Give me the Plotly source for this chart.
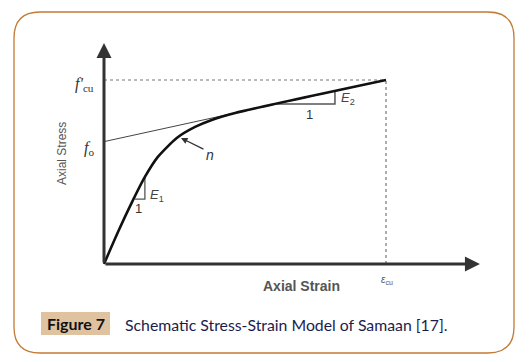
import plotly.graph_objects as go

W, H = 529, 362

# ---- data (normalised: eps_cu = 1, f'cu = 1) ----
curve_strain = [0.0, 0.050, 0.098, 0.145, 0.191, 0.258, 0.323, 0.382, 0.465, 1.0]
curve_stress = [0.0, 0.175, 0.332, 0.473, 0.582, 0.685, 0.745, 0.783, 0.821, 1.0]
f_o = 0.665
f_cu = 1.0
eps_cu = 1.0
tangent_strain = [0.0, eps_cu]
tangent_stress = [f_o, f_cu]
e1_tri_x = [0.110, 0.145, 0.145]
e1_tri_y = [0.353, 0.353, 0.467]
e2_tri_x = [0.613, 0.819, 0.819]
e2_tri_y = [0.870, 0.870, 0.939]
x_axis_end = 1.333
y_axis_end = 1.201

# pixel mapping (origin px (104,264), eps_cu px 386, f'cu px 80)
sx, sy = 282.0, 184.0
ox, oy = 104.0, 264.0
xr = [-ox / sx, (W - ox) / sx]
yr = [-(H - oy) / sy, oy / sy]

fig = go.Figure()
# dashed guides
fig.add_trace(go.Scatter(x=[0, eps_cu], y=[f_cu, f_cu], mode="lines",
                         line=dict(color="#777", width=1.2, dash="dot"), hoverinfo="skip"))
fig.add_trace(go.Scatter(x=[eps_cu, eps_cu], y=[0, f_cu], mode="lines",
                         line=dict(color="#777", width=1.2, dash="dot"), hoverinfo="skip"))
# tangent
fig.add_trace(go.Scatter(x=tangent_strain, y=tangent_stress, mode="lines",
                         line=dict(color="#444", width=1), hoverinfo="skip"))
# triangles
fig.add_trace(go.Scatter(x=e1_tri_x, y=e1_tri_y, mode="lines",
                         line=dict(color="#555", width=1.3), hoverinfo="skip"))
fig.add_trace(go.Scatter(x=e2_tri_x, y=e2_tri_y, mode="lines",
                         line=dict(color="#555", width=1.5), hoverinfo="skip"))
# main curve
fig.add_trace(go.Scatter(x=curve_strain, y=curve_stress, mode="lines",
                         line=dict(color="#111", width=2.6, shape="spline", smoothing=0.6),
                         hoverinfo="skip"))

ann = []
# axes arrows
ann.append(dict(x=0, y=y_axis_end, ax=0, ay=0, xref="x", yref="y", axref="x", ayref="y",
                showarrow=True, arrowhead=2, arrowsize=1, arrowwidth=3, arrowcolor="#333", text=""))
ann.append(dict(x=x_axis_end, y=0, ax=0, ay=0, xref="x", yref="y", axref="x", ayref="y",
                showarrow=True, arrowhead=2, arrowsize=1, arrowwidth=3, arrowcolor="#333", text=""))
# n arrow
ann.append(dict(x=0.273, y=0.685, ax=0.358, ay=0.620, xref="x", yref="y", axref="x", ayref="y",
                showarrow=True, arrowhead=2, arrowsize=1, arrowwidth=1.3, arrowcolor="#333", text=""))

def lab(x, y, t, size=11, color="#444", angle=0, family="Liberation Sans"):
    ann.append(dict(x=x, y=y, xref="x", yref="y", text=t, showarrow=False,
                    xanchor="center", yanchor="middle",
                    font=dict(size=size, color=color, family=family), textangle=angle))

lab(-0.149, 0.603, "Axial Stress", 12, "#555", -90)
lab(0.70, -0.12, "<b>Axial Strain</b>", 14, "#555")
lab(1.005, -0.085, "<i>ε</i><sub>cu</sub>", 10, "#555")
lab(-0.070, 0.975, "<i>f'</i><sub>cu</sub>", 16, "#333", family="Liberation Serif")
lab(-0.054, 0.63, "<i>f</i><sub>o</sub>", 16, "#333", family="Liberation Serif")
lab(0.376, 0.592, "<i>n</i>", 14, "#333")
lab(0.187, 0.375, "<i>E</i><sub>1</sub>", 13, "#444")
lab(0.121, 0.300, "1", 13, "#333")
lab(0.866, 0.902, "<i>E</i><sub>2</sub>", 13, "#444")
lab(0.730, 0.815, "1", 13, "#333")

# caption
def px(x):
    return x / W

def py(y):
    return 1 - y / H

ann.append(dict(x=px(75.5), y=py(323.5), xref="paper", yref="paper", text="<b>Figure 7</b>",
                xanchor="center", yanchor="middle",
                showarrow=False, font=dict(size=16, color="#111", family="Lato")))
ann.append(dict(x=px(123), y=py(324), xref="paper", yref="paper", xanchor="left", yanchor="middle",
                text="Schematic Stress-Strain Model of Samaan [17].",
                showarrow=False, font=dict(size=15.8, color="#1c1c4c", family="Lato")))

# rounded border path (paper coords)
L, R, T, B, r = 14, 514, 12, 353, 26
def P(x, y):
    return f"{px(x):.5f},{py(y):.5f}"
path = (f"M {P(L + r, T)} L {P(R - r, T)} Q {P(R, T)} {P(R, T + r)} "
        f"L {P(R, B - r)} Q {P(R, B)} {P(R - r, B)} "
        f"L {P(L + r, B)} Q {P(L, B)} {P(L, B - r)} "
        f"L {P(L, T + r)} Q {P(L, T)} {P(L + r, T)} Z")

shapes = [
    dict(type="path", xref="paper", yref="paper", path=path,
         line=dict(color="#c27a34", width=1.3), layer="below"),
    dict(type="rect", xref="paper", yref="paper", x0=px(41), x1=px(110), y0=py(335), y1=py(312),
         fillcolor="#dfc3a0", line=dict(width=0), layer="below"),
]

fig.update_layout(width=W, height=H, margin=dict(l=0, r=0, t=0, b=0),
                  paper_bgcolor="white", plot_bgcolor="white", showlegend=False,
                  xaxis=dict(range=xr, visible=False, fixedrange=True),
                  yaxis=dict(range=yr, visible=False, fixedrange=True),
                  annotations=ann, shapes=shapes)

fig.write_html("out.html", config={"displayModeBar": False},
               post_script="document.body.style.margin='0';document.body.style.overflow='hidden';")
